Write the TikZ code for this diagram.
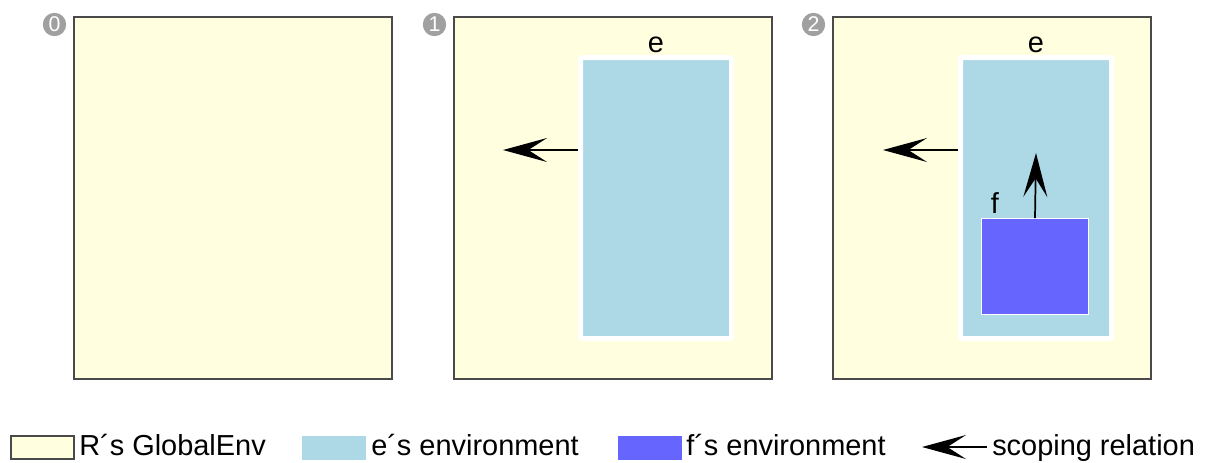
\documentclass[tikz,border=0pt]{standalone}
\usepackage{fontspec}
\setmainfont{Liberation Sans}
\usetikzlibrary{arrows.meta,fit}
\definecolor{genvcol}{HTML}{FFFFE0}
\definecolor{ecol}{HTML}{ADD8E6}
\definecolor{fcol}{HTML}{6666FF}
\definecolor{framecol}{HTML}{4A4A4A}
\definecolor{numcol}{HTML}{A0A0A0}
\tikzset{
  genv/.style={draw=framecol,fill=genvcol,line width=0.9pt,inner sep=0pt},
  eenv/.style={draw=white,fill=ecol,line width=3.75pt,rounded corners=1.5pt,inner sep=0pt},
  fenv/.style={draw=white,fill=fcol,line width=1.1pt,inner sep=0pt},
  stepnum/.style={circle,fill=numcol,text=white,inner sep=0pt,
    minimum size=17.5pt,font=\fontsize{16}{16}\selectfont},
  lbl/.style={inner sep=0pt,anchor=base,font=\fontsize{21.7}{21.7}\selectfont},
  scoperel/.style={-{Stealth[length=33pt,width=18pt,inset=14pt]},line width=1.3pt}
}
\begin{document}
\begin{tikzpicture}[x=0.75pt,y=-0.75pt]
  \useasboundingbox (0,0) rectangle (1210,462);

  % panel 0
  \node[genv,fit={(74,17) (392,379)}] (g0) {};
  \node[stepnum] (n0) at (54.5,24.5) {0};

  % panel 1
  \node[genv,fit={(454,17) (772,379)}] (g1) {};
  \node[stepnum] (n1) at (434.5,24.5) {1};
  \node[eenv,fit={(580.5,57.5) (731.5,338.5)}] (e1) {};
  \node[lbl] (le1) at (656,52.5) {e};
  \coordinate (s1) at (503,150);
  \draw[scoperel] (e1.west |- s1) -- (s1);

  % panel 2
  \node[genv,fit={(833,17) (1151,379)}] (g2) {};
  \node[stepnum] (n2) at (813.5,24.5) {2};
  \node[eenv,fit={(960.5,57.5) (1111.5,338.5)}] (e2) {};
  \node[lbl] (le2) at (1036,52.5) {e};
  \coordinate (s2) at (883,150);
  \draw[scoperel] (e2.west |- s2) -- (s2);
  \node[fenv,fit={(981.75,218.75) (1088.25,314.25)}] (f2) {};
  \node[lbl] (lf2) at (995,213) {f};
  \coordinate (t2) at (1036,153);
  \draw[scoperel] (f2.north) -- (t2);

  % legend
  \node[genv,fit={(11,436) (74,459)}] (k1) {};
  \node[lbl,anchor=base west] (kt1) at (79,455) {R´s GlobalEnv};
  \node[fill=ecol,inner sep=0pt,fit={(302,436) (366,460)}] (k2) {};
  \node[lbl,anchor=base west] (kt2) at (371,455) {e´s environment};
  \node[fill=fcol,inner sep=0pt,fit={(618,436) (682,460)}] (k3) {};
  \node[lbl,anchor=base west] (kt3) at (686,455) {f´s environment};
  \coordinate (k4) at (922,447);
  \node[lbl,anchor=base west] (kt4) at (992,455) {scoping relation};
  \draw[scoperel] (kt4.west |- k4) ++(-5,0) -- (k4);
\end{tikzpicture}
\end{document}
